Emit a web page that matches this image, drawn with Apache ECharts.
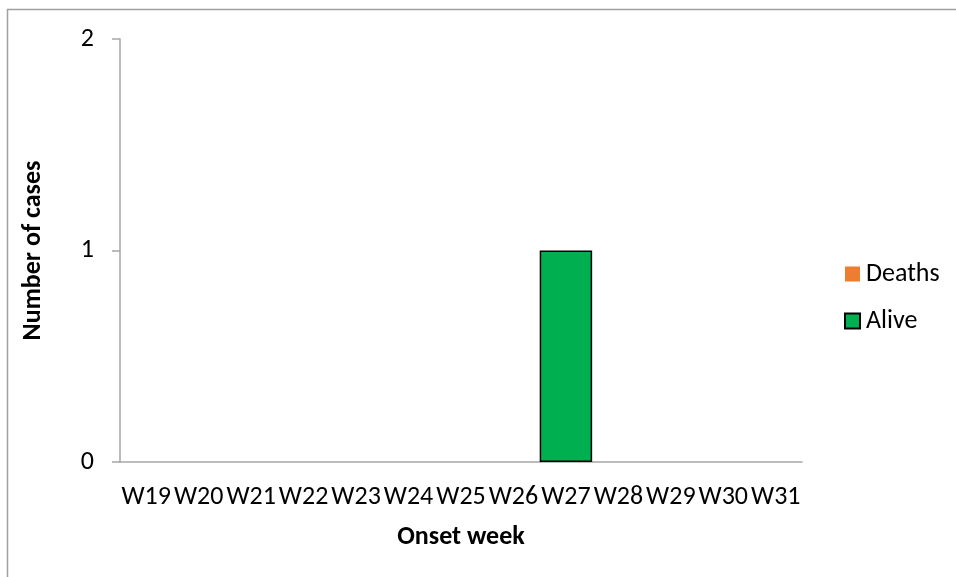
<!DOCTYPE html>
<html>
<head>
<meta charset="utf-8">
<script src="https://cdn.jsdelivr.net/npm/echarts@6/dist/echarts.min.js"></script>
<style>
  html, body { margin: 0; padding: 0; background: #fff; }
  #chart { width: 956px; height: 577px; }
</style>
</head>
<body>
<div id="chart"></div>
<script>
// data
const weeks = ['W19', 'W20', 'W21', 'W22', 'W23', 'W24', 'W25', 'W26', 'W27', 'W28', 'W29', 'W30', 'W31']
const alive = [0, 0, 0, 0, 0, 0, 0, 0, 1, 0, 0, 0, 0]
const deaths = [0, 0, 0, 0, 0, 0, 0, 0, 0, 0, 0, 0, 0]
const yTicks = [0, 1, 2]

const font = 'Carlito, "Liberation Sans", sans-serif'
const axisGray = '#A6A6A6'
const fs = 26

// zero bars are not drawn (otherwise the border would show on the axis)
const noZero = arr => arr.map(v => (v === 0 ? '-' : v))

const chart = echarts.init(document.getElementById('chart'))
chart.setOption({
    animation: false,
    textStyle: { fontFamily: font },
    graphic: [{
        type: 'rect',
        shape: { x: 7.5, y: 9.5, width: 1000, height: 700 },
        style: { fill: 'none', stroke: '#A0A0A0', lineWidth: 1.5 },
        silent: true
    }],
    grid: { left: 120, right: 154, top: 39, bottom: 115 },
    legend: {
        orient: 'vertical',
        left: 844,
        top: 261,
        padding: 0,
        icon: 'rect',
        itemWidth: 15,
        itemHeight: 15,
        itemGap: 21,
        textStyle: { fontSize: fs, lineHeight: 26, color: '#000', fontFamily: font, padding: [0, 0, 0, 1] },
        data: ['Deaths', 'Alive']
    },
    xAxis: {
        type: 'category',
        data: weeks,
        name: 'Onset week',
        nameLocation: 'middle',
        nameGap: 62,
        nameTextStyle: { fontSize: fs, fontWeight: 'bold', color: '#000' },
        axisLine: { lineStyle: { color: axisGray, width: 1.5 } },
        axisTick: { length: 8, lineStyle: { color: axisGray, width: 1.5 } },
        axisLabel: { interval: 0, fontSize: fs, color: '#000', margin: 22 }
    },
    yAxis: {
        type: 'value',
        min: yTicks[0],
        max: yTicks[yTicks.length - 1],
        interval: 1,
        name: 'Number of cases',
        nameLocation: 'middle',
        nameGap: 74,
        nameTextStyle: { fontSize: fs, fontWeight: 'bold', color: '#000' },
        axisLine: { show: true, lineStyle: { color: axisGray, width: 1.5 } },
        axisTick: { show: true, length: 8, lineStyle: { color: axisGray, width: 1.5 } },
        axisLabel: { fontSize: fs, color: '#000', margin: 26 },
        splitLine: { show: false }
    },
    series: [
        {
            name: 'Alive',
            type: 'bar',
            stack: 'cases',
            barCategoryGap: 0,
            data: noZero(alive),
            itemStyle: { color: '#00B050', borderColor: '#000', borderWidth: 1.5 }
        },
        {
            name: 'Deaths',
            type: 'bar',
            stack: 'cases',
            barCategoryGap: 0,
            data: noZero(deaths),
            itemStyle: { color: '#ED7D31' }
        }
    ]
})
</script>
</body>
</html>
